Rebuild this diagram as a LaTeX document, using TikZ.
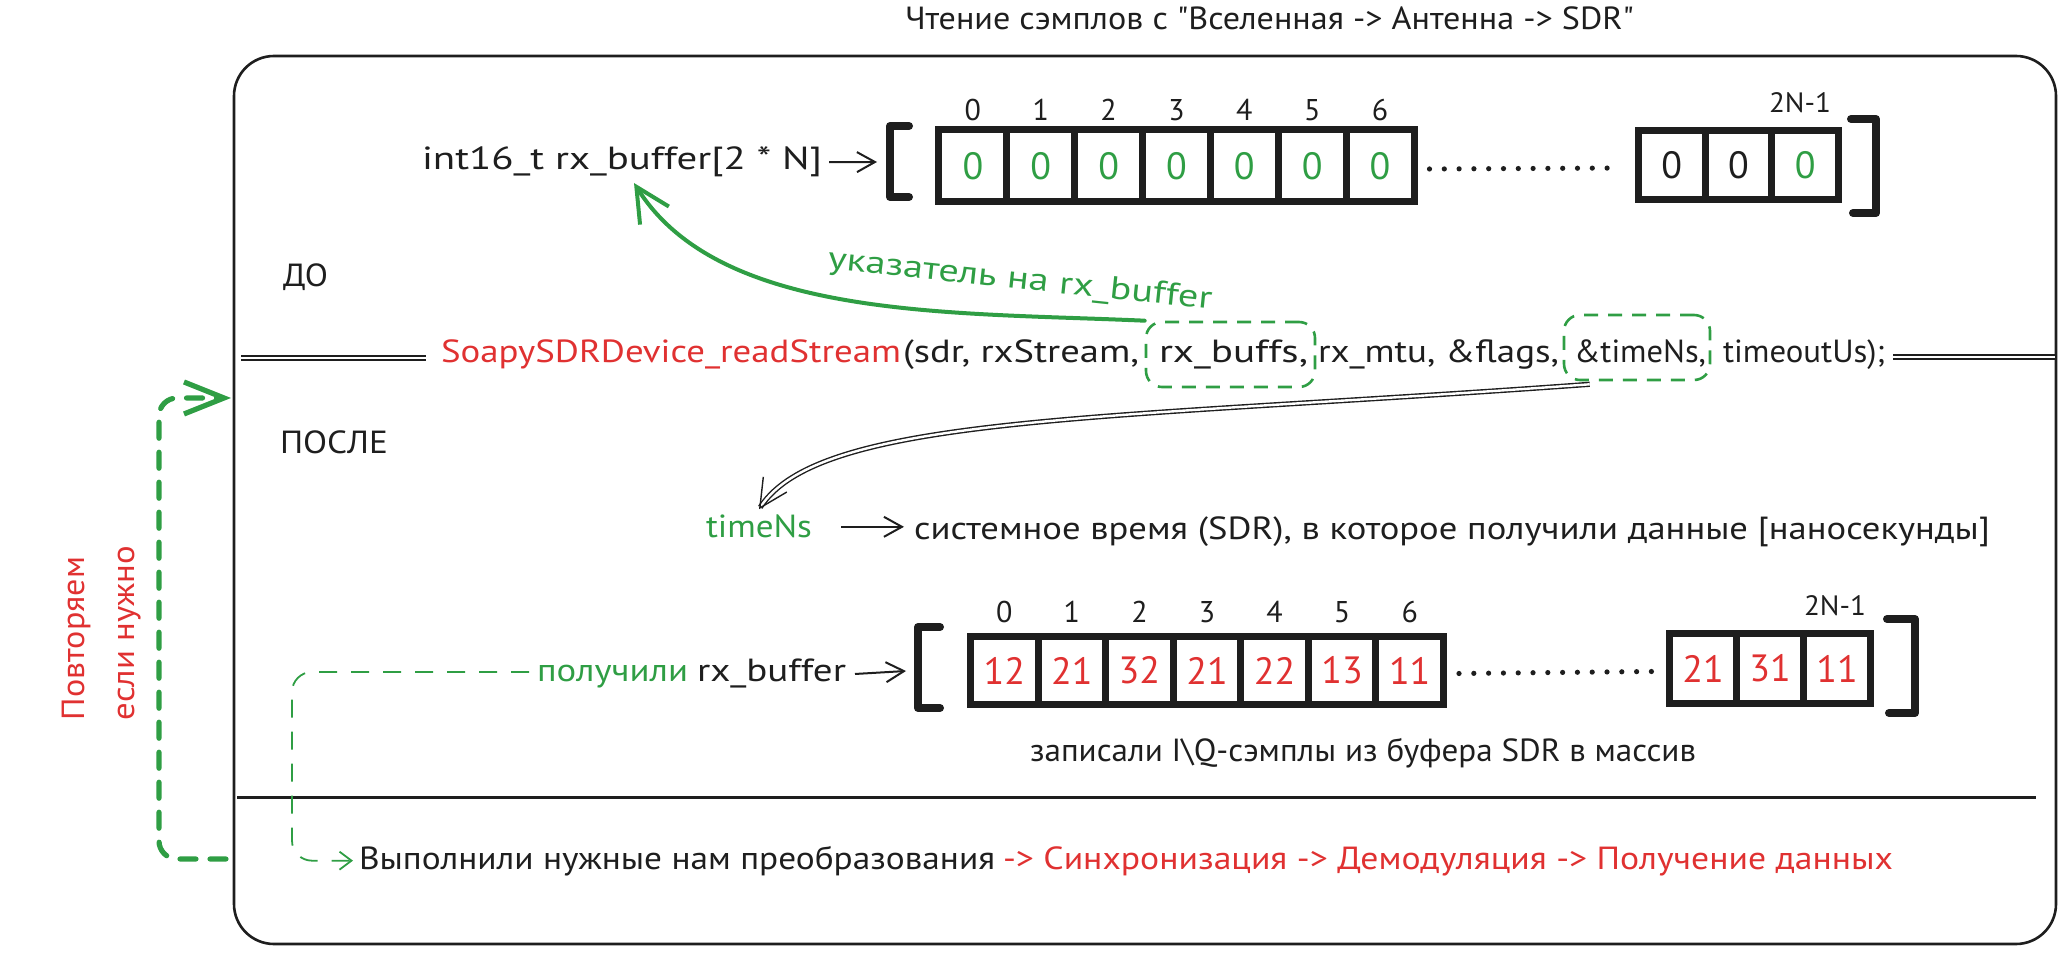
\documentclass[tikz,border=0pt]{standalone}
\usepackage{fontspec}
\setmainfont{PT Sans}[Ligatures=TeXOff]
\usepackage{graphicx}
\usetikzlibrary{arrows.meta}
\definecolor{gr}{HTML}{2F9E44}
\definecolor{rd}{HTML}{E03131}
\definecolor{ink}{HTML}{1E1E1E}
\newcommand{\fitw}[2]{\resizebox{#1pt}{\height}{#2}}
\begin{document}
\begin{tikzpicture}[x=0.5pt,y=-0.5pt,
  txt/.style={inner sep=0pt, outer sep=0pt, text=ink, font=\fontsize{16}{19}\selectfont},
  idx/.style={inner sep=0pt, text=ink, font=\fontsize{15}{17}\selectfont},
  idxs/.style={inner sep=0pt, text=ink, font=\fontsize{14}{16}\selectfont},
  cell/.style={draw=ink, line width=3.5pt, inner sep=0pt, font=\fontsize{19}{21}\selectfont},
  brk/.style={draw=ink, line width=4pt, line cap=round, line join=round},
  dots/.style={draw=ink, line width=2.6pt, line cap=round, dash pattern=on 0pt off 7.4pt},
  tarrow/.style={draw=ink, line width=1pt, -{Straight Barb[length=9pt,width=10pt]}},
  garrow/.style={draw=gr, line width=2pt, line cap=round, -{Straight Barb[length=17pt,width=17pt]}},
  darrow/.style={draw=ink, double=white, line width=0.7pt, double distance=1.2pt, -{Straight Barb[length=14pt,width=14pt]}},
  dbox/.style={draw=gr, line width=1.3pt, dash pattern=on 7pt off 5pt, rounded corners=8pt, inner sep=0pt},
  gthin/.style={draw=gr, line width=0.9pt, dash pattern=on 9pt off 7pt, rounded corners=10pt, -{Straight Barb[length=6pt,width=9pt]}},
  gloop/.style={draw=gr, line width=2.6pt, line cap=round, dash pattern=on 8pt off 7pt, rounded corners=9pt, -{Straight Barb[length=20pt,width=16pt]}},
  dline/.style={draw=ink, double=white, line width=0.7pt, double distance=1.2pt},
  sepline/.style={draw=ink, line width=1.5pt},
  frame/.style={draw=ink, line width=1.3pt, rounded corners=20pt}]
\useasboundingbox (0,0) rectangle (2062,956);

% title and frame
\node[txt, anchor=base west] (title) at (905,30) {\fitw{364.5}{Чтение сэмплов с "Вселенная -> Антенна -> SDR"}};
\draw[frame] (234,56) rectangle (2056,944);

% ---------- top array ----------
\node[txt, anchor=base west] (decl) at (422,170) {\fitw{200}{int16\_t rx\_buffer[2 * N]}};
\coordinate (tbrL) at (877,162);
\draw[tarrow] ([xshift=3.5pt]decl.east) -- (tbrL);
\draw[brk] (909,126) -- (890,126) -- (890,197) -- (909,197);
\foreach \i in {0,...,6} {
  \node[cell, text=gr, minimum width=33.93pt, minimum height=36pt] (t\i) at ({972.9+67.86*\i},166) {0};
  \node[idx] (ti\i) at ({972.9+67.86*\i},110) {\i};
}
\foreach \i/\c in {0/ink,1/ink,2/gr} {
  \node[cell, text=\c, minimum width=33.33pt, minimum height=34.5pt] (tr\i) at ({1671.8+66.67*\i},165) {0};
}
\node[idxs] (tiN) at (1800,103) {\fitw{31}{2N-1}};
\draw[dots] ([xshift=6pt,yshift=-1.5pt]t6.east) -- ([xshift=-7pt,yshift=-1.5pt]tr0.west);
\draw[brk] (1851,119) -- (1876,119) -- (1876,213) -- (1853,213);

% ---------- ДО / call ----------
\node[txt, anchor=base west] (do) at (283,287) {\fitw{22.5}{ДО}};
\coordinate (dl1a) at (241,358); \coordinate (dl1b) at (426,358);
\coordinate (dl2a) at (1893,357); \coordinate (dl2b) at (2055,357);
\draw[dline] (dl1a) -- (dl1b);
\draw[dline] (dl2a) -- (dl2b);
\node[txt, text=rd, anchor=base west] (call) at (441,363) {\fitw{230}{SoapySDRDevice\_readStream}};
\node[txt, anchor=base west] (a1) at (903,363) {\fitw{118}{(sdr, rxStream,}};
\node[txt, anchor=base west] (a2) at (1159,363) {\fitw{74.5}{rx\_buffs,}};
\node[txt, anchor=base west] (a3) at (1318,363) {\fitw{120.5}{rx\_mtu, \&flags,}};
\node[txt, anchor=base west] (a4) at (1574,363) {\fitw{66}{\&timeNs,}};
\node[txt, anchor=base west] (a5) at (1723,363) {\fitw{81}{timeoutUs);}};
\node[dbox, minimum width=84.5pt, minimum height=32.5pt] (bx1) at (1230.5,354.5) {};
\node[dbox, minimum width=73pt, minimum height=32.5pt] (bx2) at (1637,347.5) {};

% pointer arrow
\coordinate (ptr) at (634,183);
\draw[garrow] (bx1.north west) .. controls (950,312) and (720,320) .. (ptr);
\node[txt, text=gr, rotate=-6] (plbl) at (1020,281) {\fitw{193}{указатель на rx\_buffer}};

% ---------- ПОСЛЕ ----------
\node[txt, anchor=base west] (posle) at (280,454) {\fitw{54}{ПОСЛЕ}};
\node[txt, anchor=base west, text=gr] (tns) at (706,538) {\fitw{53}{timeNs}};
\node[txt, anchor=base west] (desc) at (914,540) {\fitw{538}{системное время (SDR), в которое получили данные [наносекунды]}};
\draw[tarrow] ([xshift=14.5pt]tns.east) -- ([xshift=-5pt]tns.east -| desc.west);
\draw[darrow] ([xshift=13.5pt,yshift=-1.5pt]bx2.south west) .. controls (1100,420) and (820,415) .. ([yshift=3pt]tns.north);

% ---------- bottom array ----------
\node[txt, anchor=base west, text=gr] (pol) at (537,682) {\fitw{75.5}{получили}};
\node[txt, anchor=base west] (rxb) at (697,682) {\fitw{74.5}{rx\_buffer}};
\coordinate (bbrL) at (906,671);
\draw[tarrow] ([xshift=4.5pt]rxb.east) -- (bbrL);
\draw[brk] (940,627) -- (918,627) -- (918,708) -- (940,708);
\foreach \i/\v in {0/12,1/21,2/32,3/21,4/22,5/13,6/11} {
  \node[cell, text=rd, minimum width=33.79pt, minimum height=34pt] (b\i) at ({1004.3+67.57*\i},670.5) {\v};
  \node[idx] (bi\i) at ({1004.3+67.57*\i},612) {\i};
}
\foreach \i/\v in {0/21,1/31,2/11} {
  \node[cell, text=rd, minimum width=33.5pt, minimum height=35pt] (br\i) at ({1703+67*\i},668.5) {\v};
}
\node[idxs] (biN) at (1835,606) {\fitw{31}{2N-1}};
\draw[dots] ([xshift=6pt,yshift=-1.5pt]b6.east) -- ([xshift=-7pt,yshift=-1.5pt]br0.west);
\draw[brk] (1887,619) -- (1915,619) -- (1915,713) -- (1889,713);
\node[txt, anchor=base west] (wrote) at (1030,762) {\fitw{333}{записали I\textbackslash Q-сэмплы из буфера SDR в массив}};

% separator
\coordinate (spa) at (237,797); \coordinate (spb) at (2036,797);
\draw[sepline] (spa) -- (spb);

% ---------- last row ----------
\node[txt, anchor=base west] (vyp) at (359,869) {\fitw{318}{Выполнили нужные нам преобразования}};
\node[txt, anchor=base west, text=rd] (chain) at (1003,869) {\fitw{445}{-> Синхронизация -> Демодуляция -> Получение данных}};
\coordinate (lc) at (292,672);
\draw[gthin] ([xshift=-4pt]pol.west |- lc) -- (lc) |- ([xshift=-3pt]vyp.west);

% ---------- repeat loop ----------
\coordinate (lpS) at (226,859); \coordinate (lpE) at (231,398);
\coordinate (lpA) at (159,859); \coordinate (lpB) at (159,398);
\draw[gloop] (lpS) -- (lpA) -- (lpB) -- (lpE);
\node[txt, text=rd, rotate=90, anchor=west, align=left, font=\fontsize{16}{25}\selectfont] (rep) at (102,720) {\fitw{81.5}{Повторяем}\\\fitw{87}{если нужно}};
\end{tikzpicture}
\end{document}
